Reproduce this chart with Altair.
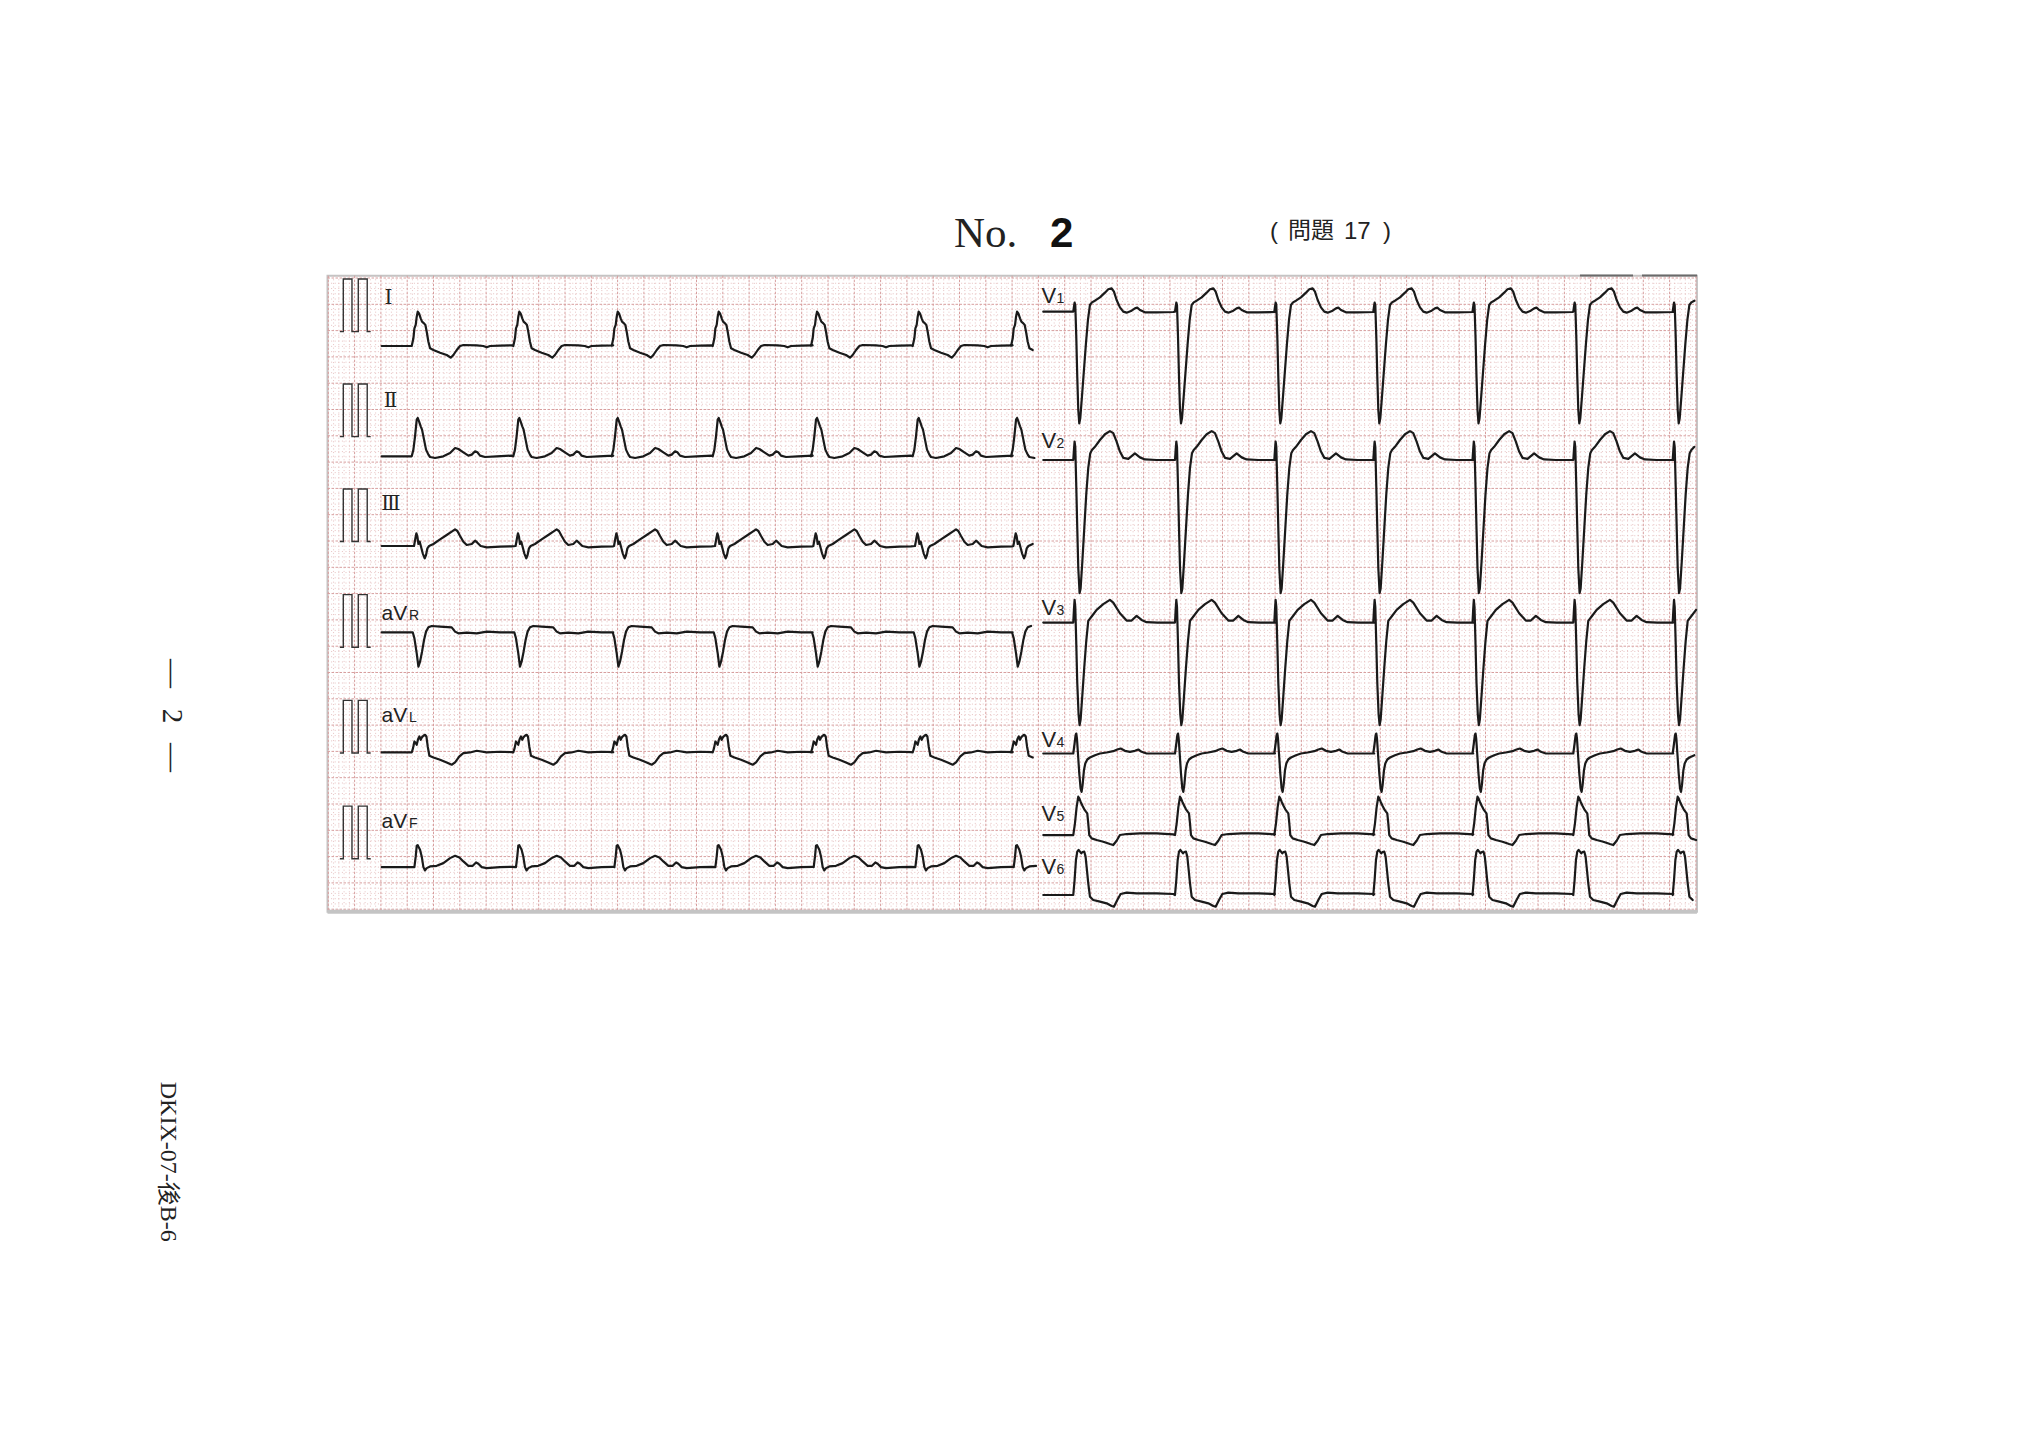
import altair as alt
import pandas as pd

# ------------------------------------------------------------------
# Layout (page pixels) and ECG paper geometry
# ------------------------------------------------------------------
PX_PER_MM = 5.26          # 1 mm of ECG paper on the page
ORIGIN_X = 328.3          # page x of the 0 mm grid line
ORIGIN_Y = 278.0          # page y of the 0 mm grid line
MARGIN = 8
CHART_W, CHART_H = 2000, 1410

X_DOMAIN = [(MARGIN - ORIGIN_X) / PX_PER_MM, (MARGIN + CHART_W - ORIGIN_X) / PX_PER_MM]
Y_DOMAIN = [(MARGIN - ORIGIN_Y) / PX_PER_MM, (MARGIN + CHART_H - ORIGIN_Y) / PX_PER_MM]

PAPER_X0, PAPER_X1 = -0.15, 260.2
PAPER_Y0, PAPER_Y1 = -0.44, 120.5
GRID_X_MAX, GRID_Y_MAX = 260, 120

# ------------------------------------------------------------------
# Data: beat onsets (mm at 25 mm/s), trace extents, lead baselines (mm)
# ------------------------------------------------------------------
LEFT_LEADS = ["I", "II", "III", "aVR", "aVL", "aVF"]
RIGHT_LEADS = ["V1", "V2", "V3", "V4", "V5", "V6"]

LEFT_ONSETS = [15.86, 35.17, 53.88, 73.08, 91.77, 111.1, 129.8]
RIGHT_ONSETS = [141.63, 160.97, 179.85, 198.67, 217.53, 236.69, 255.59]
LEFT_START, LEFT_END = 10.15, 134.8
RIGHT_START, RIGHT_END = 135.93, 260.2

BASELINE = {"I": 12.93, "II": 33.9, "III": 50.95, "aVR": 67.36, "aVL": 90.2, "aVF": 112.0,
            "V1": 6.4, "V2": 34.6, "V3": 65.5, "V4": 90.4, "V5": 105.9, "V6": 117.3}

# Beat templates: time offset from onset (mm) and amplitude (mm, 10 mm = 1 mV)
I_DX = [0, 0.32, 0.51, 0.76, 0.95, 1.14, 1.39, 1.71, 1.96, 2.34, 2.6, 2.85, 3.17, 3.49, 4.12, 5.39,
        6.65, 7.41, 7.92, 8.56, 9.19, 9.82, 12.36, 13.6, 14.26, 14.9, 16.8, 19.0]
I_AMP = [0, 1.46, 3.36, 4.0, 5.58, 6.53, 6.21, 5.26, 4.63, 4.31, 4.0, 2.72, 0.82, -0.44, -0.76, -1.27,
         -1.71, -2.22, -1.71, -0.76, 0, 0.19, 0.13, 0, -0.25, 0, 0.06, 0.13]

II_DX = [0, 0.32, 0.63, 0.95, 1.14, 1.39, 1.71, 1.96, 2.34, 2.72, 3.17, 3.49, 4.44, 6.02, 7.29, 8.24,
         8.87, 9.82, 10.77, 11.41, 12.04, 12.48, 12.99, 13.94, 16.16, 19.0]
II_AMP = [0, 1.27, 3.8, 6.97, 7.29, 6.65, 5.7, 5.07, 3.17, 1.27, 0.32, -0.13, -0.32, 0, 0.63, 1.58,
          1.39, 0.76, 0.13, 0.32, 0.95, 0.76, 0.13, -0.13, 0, 0.13]

III_DX = [0.44, 0.70, 0.89, 1.08, 1.27, 1.52, 1.77, 2.09, 2.47, 2.72, 2.98, 3.30, 4.12, 5.39, 6.65,
          7.60, 8.24, 8.68, 9.19, 9.82, 10.46, 11.41, 12.04, 12.48, 13.12, 14.26, 16.79, 19.0]
III_AMP = [0, 1.46, 2.41, 1.77, 0.38, 0.82, -0.13, -1.39, -2.34, -1.71, -0.44, 0, 0.38, 1.27, 2.09,
           2.72, 3.17, 2.85, 1.9, 0.82, 0.19, 0.38, 1.01, 0.63, 0, -0.25, -0.13, -0.06]

AVR_DX = [0.19, 0.51, 0.95, 1.27, 1.58, 1.96, 2.34, 2.72, 3.17, 3.8, 5.39, 7.6, 8.24, 8.87, 10.46,
          12.36, 14.26, 16.79, 19.0]
AVR_AMP = [0, -1.14, -3.99, -6.53, -5.58, -3.68, -1.46, 0.13, 0.95, 1.2, 1.08, 0.95, 0.13, -0.19,
           -0.06, -0.19, 0.13, 0, 0]

AVL_DX = [0, 0.25, 0.51, 0.76, 0.95, 1.2, 1.46, 1.71, 1.96, 2.22, 2.53, 2.79, 3.04, 3.36, 4.12, 5.39,
          6.65, 7.6, 8.24, 9.06, 9.82, 11.09, 12.36, 14.26, 16.79, 19.0]
AVL_AMP = [0, 0.82, 2.09, 1.77, 1.46, 2.53, 3.04, 2.41, 2.92, 3.17, 3.36, 3.04, 1.14, -0.63, -0.95,
           -1.39, -1.9, -2.34, -1.9, -0.76, -0.13, 0, 0.32, 0, 0.13, 0.06]

AVF_DX = [0.51, 0.76, 0.95, 1.14, 1.33, 1.58, 1.9, 2.22, 2.53, 2.85, 3.49, 4.75, 6.02, 7.29, 8.24,
          9.06, 9.82, 10.77, 11.6, 12.23, 12.67, 13.31, 14.26, 16.79, 19.0]
AVF_AMP = [0, 2.03, 4.06, 4.18, 3.8, 3.3, 2.03, 0, -0.63, -0.19, 0.13, 0.25, 0.76, 1.71, 2.15,
           1.84, 1.08, 0.25, 0.25, 0.89, 0.63, 0, -0.19, 0, 0.06]

V1_DX = [0, 0.13, 0.25, 0.38, 0.57, 0.76, 0.95, 1.14, 1.33, 1.65, 2.03, 2.41, 2.79, 3.17, 3.55, 4.12,
         5.07, 6.02, 6.65, 7.29, 7.73, 8.24, 8.87, 9.51, 10.14, 11.09, 11.72, 12.17, 12.67, 13.62,
         15.84, 19.01]
V1_AMP = [0, 0.95, 1.71, 1.27, -4.75, -12.36, -18.7, -21.23, -20.28, -16.16, -11.09, -6.02, -1.58,
          1.27, 1.77, 2.09, 2.72, 3.61, 4.25, 4.44, 3.8, 2.22, 0.82, 0, -0.19, 0.19, 0.63, 0.76, 0.32,
          -0.13, -0.13, -0.06]

V2_DX = [0, 0.13, 0.25, 0.38, 0.57, 0.76, 0.95, 1.2, 1.39, 1.71, 2.09, 2.47, 2.85, 3.23, 3.55, 4.12,
         5.07, 6.02, 6.97, 7.6, 8.24, 8.87, 9.51, 10.46, 11.72, 12.67, 13.62, 15.84, 19.0]
V2_AMP = [0, 2.0, 3.5, 2.5, -5.0, -13.0, -20.5, -25.3, -24.5, -19.5, -13.0, -6.5, -1.5, 1.3, 1.9,
          2.5, 3.8, 4.9, 5.5, 5.1, 3.5, 1.6, 0.4, 0.2, 1.27, 0.5, 0.1, 0, 0]

V3_DX = [0, 0.13, 0.25, 0.38, 0.57, 0.76, 1.01, 1.2, 1.39, 1.71, 2.09, 2.47, 2.85, 3.49, 4.44, 5.7,
         6.97, 7.6, 8.87, 10.14, 11.09, 12.04, 12.99, 13.94, 16.0, 19.0]
V3_AMP = [0, 2.5, 4.3, 3.0, -4.0, -11.5, -17.5, -19.5, -18.5, -14.0, -8.5, -3.5, 0.3, 1.14, 2.4,
          3.5, 4.3, 3.8, 1.77, 0.38, 0.38, 1.27, 0.5, 0.06, 0, 0]

V4_DX = [0, 0.25, 0.44, 0.57, 0.70, 0.89, 1.14, 1.39, 1.58, 1.77, 2.03, 2.28, 2.66, 3.17, 4.12, 5.07,
         6.34, 7.6, 8.37, 9.0, 9.82, 10.77, 11.72, 12.36, 12.99, 13.94, 19.0]
V4_AMP = [0, 1.9, 3.49, 3.8, 2.85, 0, -3.8, -6.65, -7.29, -6.02, -3.17, -1.9, -1.14, -0.76, -0.32,
          0, 0.19, 0.44, 0.76, 0.95, 0.51, 0.32, 0.51, 0.76, 0.32, 0, 0]

V5_DX = [0, 0.32, 0.63, 0.95, 1.14, 1.39, 1.77, 2.09, 2.41, 2.66, 2.85, 3.04, 3.49, 4.44, 5.7, 6.97,
         7.6, 8.24, 8.87, 10.14, 12.67, 15.84, 19.0]
V5_AMP = [0, 2.22, 5.26, 7.29, 6.97, 6.34, 5.51, 4.88, 4.44, 4.12, 2.22, 0, -0.63, -0.95, -1.27,
          -1.71, -1.9, -1.08, 0, 0.19, 0.32, 0.32, 0.13]

V6_DX = [0, 0.25, 0.51, 0.76, 1.01, 1.27, 1.52, 1.77, 2.09, 2.34, 2.6, 2.85, 3.17, 3.8, 5.07, 6.34,
         7.29, 7.73, 8.37, 9.0, 10.14, 12.04, 15.84, 19.0]
V6_AMP = [0, 2.85, 6.65, 8.24, 8.56, 8.24, 7.92, 8.17, 8.24, 7.29, 4.75, 2.22, -0.32, -0.95, -1.27,
          -1.58, -2.09, -2.22, -0.95, 0.19, 0.44, 0.32, 0.32, 0.19]

TEMPLATES = {"I": (I_DX, I_AMP), "II": (II_DX, II_AMP), "III": (III_DX, III_AMP),
             "aVR": (AVR_DX, AVR_AMP), "aVL": (AVL_DX, AVL_AMP), "aVF": (AVF_DX, AVF_AMP),
             "V1": (V1_DX, V1_AMP), "V2": (V2_DX, V2_AMP), "V3": (V3_DX, V3_AMP),
             "V4": (V4_DX, V4_AMP), "V5": (V5_DX, V5_AMP), "V6": (V6_DX, V6_AMP)}

# Calibration pulses (1 mV = 10 mm) at the start of each limb-lead row
CAL_DX = [2.2, 2.85, 2.85, 4.5, 4.5, 5.7, 5.7, 7.4, 7.4, 8.06]
CAL_AMP = [0, 0, 10, 10, 0, 0, 10, 10, 0, 0]
CAL_BASE = [10.2, 30.15, 50.1, 70.2, 90.3, 110.4]

# ------------------------------------------------------------------
# Build tables
# ------------------------------------------------------------------
rows = []
for lead in LEFT_LEADS + RIGHT_LEADS:
    left = lead in LEFT_LEADS
    onsets = LEFT_ONSETS if left else RIGHT_ONSETS
    start, end = (LEFT_START, LEFT_END) if left else (RIGHT_START, RIGHT_END)
    dxs, amps = TEMPLATES[lead]
    base = BASELINE[lead]
    pts = [(start, base)]
    for on in onsets:
        for dx, a in zip(dxs, amps):
            x = on + dx
            if start <= x <= end:
                pts.append((x, base - a))
    if pts[-1][0] < end - 2:
        pts.append((end, pts[-1][1]))
    for i, (x, y) in enumerate(pts):
        rows.append({"lead": lead, "i": i, "x": x, "y": y})
traces = pd.DataFrame(rows)

cal_rows = []
for k, b in enumerate(CAL_BASE):
    for i, (dx, a) in enumerate(zip(CAL_DX, CAL_AMP)):
        cal_rows.append({"row": k, "i": i, "x": dx, "y": b - a})
cal = pd.DataFrame(cal_rows)

vgrid = pd.DataFrame({"g": list(range(0, GRID_X_MAX + 1))})
vgrid["major"] = vgrid["g"] % 5 == 0
vgrid["y0"], vgrid["y1"] = PAPER_Y0, PAPER_Y1
hgrid = pd.DataFrame({"g": list(range(0, GRID_Y_MAX + 1))})
hgrid["major"] = hgrid["g"] % 5 == 0
hgrid["x0"], hgrid["x1"] = PAPER_X0, PAPER_X1

paper = pd.DataFrame({"x0": [PAPER_X0], "x1": [PAPER_X1], "y0": [PAPER_Y0], "y1": [PAPER_Y1]})

xs = alt.Scale(domain=X_DOMAIN, nice=False, zero=False)
ys = alt.Scale(domain=Y_DOMAIN, nice=False, zero=False, reverse=True)


def X(f):
    return alt.X(f, scale=xs, axis=None)


def Y(f):
    return alt.Y(f, scale=ys, axis=None)


paper_bg = alt.Chart(paper).mark_rect(fill="#ffffff", stroke="#c4c4c4", strokeWidth=2).encode(
    x=X("x0:Q"), x2="x1:Q", y=Y("y0:Q"), y2="y1:Q")
paper_bottom = alt.Chart(paper).mark_rule(stroke="#c4c4c4", strokeWidth=4).encode(
    x=X("x0:Q"), x2="x1:Q", y=Y("y1:Q"))

MINOR = dict(stroke="#e4bcbc", strokeWidth=0.9, strokeDash=[1, 2.6])
MAJOR = dict(stroke="#d79e9e", strokeWidth=1, strokeDash=[2.5, 1.5])

minor_v = alt.Chart(vgrid[~vgrid["major"]]).mark_rule(**MINOR).encode(
    x=X("g:Q"), y=Y("y0:Q"), y2="y1:Q")
minor_h = alt.Chart(hgrid[~hgrid["major"]]).mark_rule(**MINOR).encode(
    y=Y("g:Q"), x=X("x0:Q"), x2="x1:Q")
major_v = alt.Chart(vgrid[vgrid["major"]]).mark_rule(**MAJOR).encode(
    x=X("g:Q"), y=Y("y0:Q"), y2="y1:Q")
major_h = alt.Chart(hgrid[hgrid["major"]]).mark_rule(**MAJOR).encode(
    y=Y("g:Q"), x=X("x0:Q"), x2="x1:Q")

cal_layer = alt.Chart(cal).mark_line(color="#333333", strokeWidth=1.4).encode(
    x=X("x:Q"), y=Y("y:Q"), detail="row:N", order="i:Q")

trace_layer = alt.Chart(traces).mark_line(
    color="#1a1a1a", strokeWidth=2.2, strokeJoin="round", strokeCap="round").encode(
    x=X("x:Q"), y=Y("y:Q"), detail="lead:N", order="i:Q")

# ------------------------------------------------------------------
# Text (positions in page pixels, shifted by the page margin)
# ------------------------------------------------------------------
def txt(items, **style):
    df = pd.DataFrame(items, columns=["t", "px", "py"])
    df["px"] = df["px"] - MARGIN
    df["py"] = df["py"] - MARGIN
    return alt.Chart(df).mark_text(**style).encode(
        x=alt.X("px:Q", scale=None, axis=None), y=alt.Y("py:Q", scale=None, axis=None), text="t:N")


roman = txt([["Ⅰ", 388.5, 303.5], ["Ⅱ", 390.5, 407], ["Ⅲ", 391, 509.5]],
            font="DejaVu Serif", fontSize=20, align="center", baseline="alphabetic", color="#222")
av_main = txt([["aV", 381.5, 620], ["aV", 381.5, 721.7], ["aV", 381.5, 828.3]],
              font="Liberation Sans", fontSize=21, align="left", baseline="alphabetic", color="#222")
av_sub = txt([["R", 409, 620], ["L", 409, 721.7], ["F", 409, 828.3]],
             font="Liberation Sans", fontSize=14, align="left", baseline="alphabetic", color="#222")
v_main = txt([["V", 1041.5, 303.3], ["V", 1041.5, 448.3], ["V", 1041.5, 615],
              ["V", 1041.5, 746.7], ["V", 1041.5, 820.7], ["V", 1041.5, 874]],
             font="Liberation Sans", fontSize=22, align="left", baseline="alphabetic", color="#222")
v_sub = txt([["1", 1056.5, 303.3], ["2", 1056.5, 448.3], ["3", 1056.5, 615],
             ["4", 1056.5, 746.7], ["5", 1056.5, 820.7], ["6", 1056.5, 874]],
            font="Liberation Sans", fontSize=14, align="left", baseline="alphabetic", color="#222")

title_no = txt([["No.", 954, 247]], font="Liberation Serif", fontSize=43,
               align="left", baseline="alphabetic", color="#222")
title_2 = txt([["2", 1050, 247]], font="Liberation Sans Narrow, Liberation Sans", fontSize=42,
              fontWeight="bold", align="left", baseline="alphabetic", color="#111")
title_paren = txt([["(", 1270, 239], [")", 1383, 239]], font="Liberation Sans", fontSize=24,
                  align="left", baseline="alphabetic", color="#222")
title_kanji = txt([["問題", 1288, 238]], font="Noto Sans CJK JP", fontSize=23,
                  align="left", baseline="alphabetic", color="#222")
title_num = txt([["17", 1344, 238.5]], font="Liberation Sans", fontSize=24,
                align="left", baseline="alphabetic", color="#222")

page_no = txt([["—", 171.7, 673.5], ["2", 171.7, 716], ["—", 171.7, 757.5]],
              font="Liberation Serif", fontSize=29, align="center", baseline="middle",
              angle=90, color="#222")
code = txt([["DKIX-07-後B-6", 167.5, 1161.7]], font="Liberation Serif", fontSize=24,
           align="center", baseline="middle", angle=90, color="#222")

# dark marks on the top edge of the paper (right end)
edge = pd.DataFrame({"a": [1580 - MARGIN, 1642 - MARGIN], "b": [1633 - MARGIN, 1697 - MARGIN]})
edge_marks = alt.Chart(edge).mark_rule(stroke="#6a6a6a", strokeWidth=2).encode(
    x=alt.X("a:Q", scale=None, axis=None), x2="b:Q", y=alt.value(275.5 - MARGIN))

chart = alt.layer(
    paper_bg, minor_v, minor_h, major_v, major_h, paper_bottom, edge_marks,
    cal_layer, trace_layer,
    roman, av_main, av_sub, v_main, v_sub,
    title_no, title_2, title_paren, title_kanji, title_num, page_no, code,
).properties(
    width=CHART_W, height=CHART_H, padding=0,
    autosize=alt.AutoSizeParams(type="none"),
    background="white",
).configure_view(stroke=None)

chart.save("out.html", embed_options={"renderer": "svg", "actions": False})
